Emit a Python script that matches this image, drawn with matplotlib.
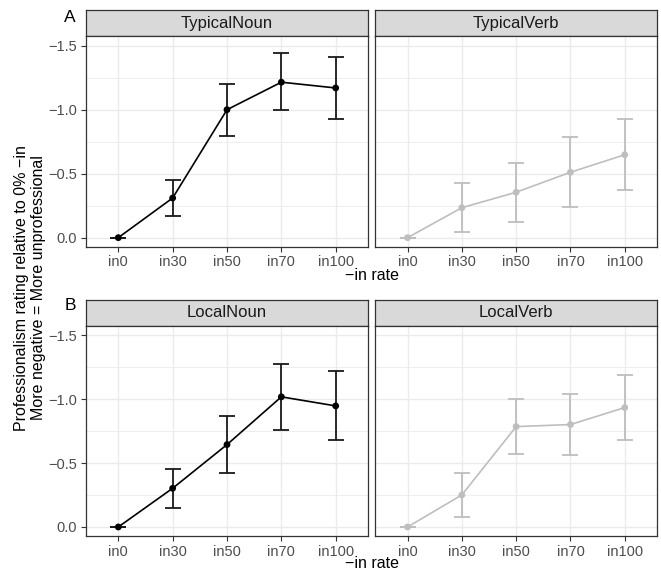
import numpy as np
import matplotlib
matplotlib.use("Agg")
import matplotlib.pyplot as plt

plt.rcParams['font.family'] = ['Liberation Sans', 'DejaVu Sans']

rates = ["in0", "in30", "in50", "in70", "in100"]

# mean ratings (relative to 0% -in); lower/upper = error bar ends
typical_noun = [0.0, -0.31, -1.00, -1.215, -1.17]
typical_noun_lo = [0.0, -0.167, -0.797, -0.998, -0.93]
typical_noun_hi = [0.0, -0.45, -1.20, -1.44, -1.41]

typical_verb = [0.0, -0.234, -0.355, -0.511, -0.648]
typical_verb_lo = [0.0, -0.045, -0.125, -0.237, -0.37]
typical_verb_hi = [0.0, -0.427, -0.581, -0.784, -0.925]

local_noun = [0.0, -0.303, -0.645, -1.019, -0.948]
local_noun_lo = [0.0, -0.151, -0.423, -0.760, -0.679]
local_noun_hi = [0.0, -0.455, -0.868, -1.277, -1.220]

local_verb = [0.0, -0.251, -0.786, -0.802, -0.935]
local_verb_lo = [0.0, -0.076, -0.572, -0.567, -0.682]
local_verb_hi = [0.0, -0.426, -1.00, -1.04, -1.189]

panels = [
  ("TypicalNoun", typical_noun, typical_noun_lo, typical_noun_hi, "black"),
  ("TypicalVerb", typical_verb, typical_verb_lo, typical_verb_hi, "#BEBEBE"),
  ("LocalNoun", local_noun, local_noun_lo, local_noun_hi, "black"),
  ("LocalVerb", local_verb, local_verb_lo, local_verb_hi, "#BEBEBE"),
]

W, H = 661, 571
fig = plt.figure(figsize=(W / 100, H / 100), dpi=100)

def px_axes(x0, y0, x1, y1):
  # pixel box (top-left origin) -> figure axes
  return fig.add_axes([x0 / W, 1 - y1 / H, (x1 - x0) / W, (y1 - y0) / H])

cols = [(85.7, 368.3), (375.0, 657.3)]
rows = [(10.3, 36.0, 247.0), (300.0, 325.7, 536.3)]
border = "#333333"

for i, (name, m, lo, hi, col) in enumerate(panels):
  r, c = divmod(i, 2)
  x0, x1 = cols[c]
  st, pt, pb = rows[r]

  # strip
  sax = px_axes(x0, st, x1, pt)
  sax.set_facecolor("#D9D9D9")
  sax.set_xticks([])
  sax.set_yticks([])
  for s in sax.spines.values():
    s.set_color(border)
    s.set_linewidth(0.9)
  sax.text(0.5, 0.5, name, ha="center", va="center", fontsize=12,
           color="#1A1A1A", transform=sax.transAxes)

  ax = px_axes(x0, pt, x1, pb)
  x = np.arange(len(rates))
  m = np.array(m)
  lo = np.array(lo)
  hi = np.array(hi)
  yerr = np.abs(np.array([m - hi, lo - m]))
  ax.errorbar(x, m, yerr=yerr, fmt="none", ecolor=col if col != "black" else "#1A1A1A",
              elinewidth=1.3, capsize=5.5, capthick=1.3, zorder=3)
  ax.plot(x, m, color=col, lw=1.2, zorder=4)
  ax.scatter(x, m, color=col, s=24, zorder=5, edgecolors="none")

  ax.set_xlim(-0.6, 4.6)
  ax.set_ylim(0.073, -1.576)
  ax.set_xticks(x)
  ax.set_yticks([0.0, -0.5, -1.0, -1.5])
  ax.set_yticks([-0.25, -0.75, -1.25], minor=True)
  ax.set_xticklabels(rates)
  if c == 0:
    ax.set_yticklabels(["0.0", "\u22120.5", "\u22121.0", "\u22121.5"])
  else:
    ax.set_yticklabels([])
  ax.tick_params(axis="both", which="major", length=3.5, width=0.8, color=border,
                 labelsize=10.5, labelcolor="#4D4D4D", pad=2.5)
  ax.tick_params(axis="y", which="minor", length=0)
  if c == 1:
    ax.tick_params(axis="y", which="major", length=0)
  ax.grid(True, which="major", color="#EBEBEB", lw=1.0, zorder=0)
  ax.grid(True, which="minor", axis="y", color="#EBEBEB", lw=0.6, zorder=0)
  ax.set_axisbelow(True)
  for s in ax.spines.values():
    s.set_color(border)
    s.set_linewidth(0.9)

# x axis titles and tags
for yy in [276, 564]:
  fig.text(371.5 / W, 1 - yy / H, "\u2212in rate", ha="center", va="center", fontsize=11.5)
fig.text(70 / W, 1 - 18 / H, "A", ha="center", va="center", fontsize=12.5)
fig.text(70 / W, 1 - 305 / H, "B", ha="center", va="center", fontsize=12.5)

fig.text(30 / W, 1 - 288 / H,
         "Professionalism rating relative to 0% \u2212in\nMore negative = More unprofessional",
         ha="center", va="center", rotation=90, fontsize=11.5, linespacing=1.2)

fig.savefig("out.png", dpi=100)
